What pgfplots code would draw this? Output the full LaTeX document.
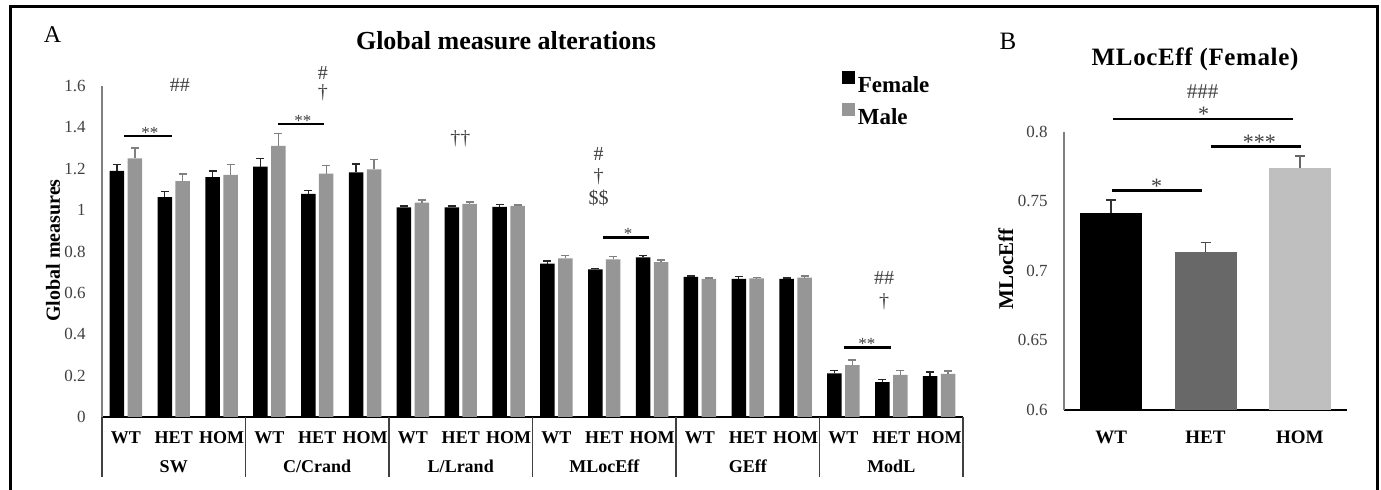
\documentclass[border=0pt]{standalone}
\usepackage{fontspec}
\setmainfont{Liberation Serif}
\usepackage{pgfplots}
\pgfplotsset{compat=1.18}
\usepackage{pgfplotstable}
\definecolor{maleg}{HTML}{969696}
\definecolor{ticktxt}{HTML}{404040}
\definecolor{hetg}{HTML}{686868}
\definecolor{homg}{HTML}{BFBFBF}
\definecolor{axgray}{HTML}{7F7F7F}

\pgfplotstableread{
x y e
0 1.190 0.030
1 1.063 0.027
2 1.160 0.030
3 1.210 0.040
4 1.078 0.017
5 1.183 0.040
6 1.013 0.006
7 1.013 0.006
8 1.016 0.010
9 0.741 0.013
10 0.713 0.006
11 0.772 0.010
12 0.677 0.004
13 0.668 0.012
14 0.668 0.004
15 0.211 0.013
16 0.168 0.014
17 0.198 0.019
}\female
\pgfplotstableread{
x y e
0 1.250 0.050
1 1.140 0.035
2 1.170 0.050
3 1.310 0.060
4 1.176 0.041
5 1.197 0.048
6 1.036 0.013
7 1.030 0.010
8 1.021 0.004
9 0.767 0.014
10 0.762 0.013
11 0.748 0.011
12 0.668 0.004
13 0.670 0.004
14 0.674 0.007
15 0.251 0.024
16 0.203 0.021
17 0.208 0.014
}\male

\begin{document}
\begin{tikzpicture}
\useasboundingbox (0,0) rectangle (690.5pt,245pt);
% outer frame
\draw[line width=1.2pt] (5.15pt,0) -- (5.15pt,241.7pt) -- (688.75pt,241.7pt) -- (688.75pt,0);
% panel letters and titles
\node[anchor=base, font=\fontsize{12}{14}\selectfont] at (26.25pt,223.6pt) {A};
\node[anchor=base, font=\fontsize{13}{15}\selectfont\bfseries] at (253pt,220pt) {Global measure alterations};
\node[anchor=base, font=\fontsize{12.5}{14}\selectfont] at (504pt,220.3pt) {B};
\node[anchor=base, inner sep=0pt, font=\fontsize{12.5}{14}\selectfont\bfseries\addfontfeatures{LetterSpace=2.5}] at (597.5pt,212.2pt) {MLocEff (Female)};

\begin{axis}[
  at={(51pt,36.5pt)}, anchor=south west,
  scale only axis, width=430.5pt, height=165.5pt,
  xmin=-0.5, xmax=17.5, ymin=0, ymax=1.6,
  clip mode=individual,
  axis x line=bottom, axis y line=left,
  axis line style={-},
  x axis line style={black, line width=0.6pt},
  y axis line style={axgray, line width=0.6pt},
  major tick length=0pt,
  ytick={0,0.2,0.4,0.6,0.8,1,1.2,1.4,1.6},
  /pgf/number format/assume math mode=true,
  yticklabel style={font=\fontsize{8.5}{10}\selectfont, text=ticktxt, anchor=east, xshift=-4.7pt},
  xtick={0,...,17},
  xticklabels={WT,HET,HOM,WT,HET,HOM,WT,HET,HOM,WT,HET,HOM,WT,HET,HOM,WT,HET,HOM},
  xticklabel style={font=\fontsize{9}{10}\selectfont\bfseries, anchor=base, yshift=-13.3pt},
  ylabel={Global measures},
  ylabel style={font=\fontsize{10}{12}\selectfont\bfseries, at={(axis description cs:-0.0569,0.503)}, anchor=center},
  legend style={at={(0.8595,1.045)}, anchor=north west, draw=none, fill=none, inner sep=0pt,
    font=\fontsize{11.5}{13}\selectfont\bfseries, row sep=4.5pt,
    nodes={inner sep=1.2pt, text depth=0pt}},
  legend cell align=left,
]
\addplot[ybar, bar width=7.25pt, bar shift=0pt, fill=black, draw=none,
  legend image code/.code={\fill[black] (0pt,-0.2pt) rectangle (6.5pt,6.3pt);},
  error bars/.cd, y dir=plus, y explicit,
  error bar style={black!85, line width=0.7pt},
  error mark options={rotate=90, black!85, mark size=2pt, line width=0.7pt}]
  table[x expr=\thisrow{x}-0.188, y=y, y error=e]{\female};
\addlegendentry{Female}
\addplot[ybar, bar width=7.25pt, bar shift=0pt, fill=maleg, draw=none,
  legend image code/.code={\fill[maleg] (0pt,-0.2pt) rectangle (6.5pt,6.3pt);},
  error bars/.cd, y dir=plus, y explicit,
  error bar style={gray, line width=0.7pt},
  error mark options={rotate=90, gray, mark size=2pt, line width=0.7pt}]
  table[x expr=\thisrow{x}+0.188, y=y, y error=e]{\male};
\addlegendentry{Male}

% group labels and separators
\draw[black!75, line width=0.6pt] (axis cs:-0.5,0) -- ([yshift=-30pt]axis cs:-0.5,0);
\draw[black!75, line width=0.6pt] (axis cs:2.5,0) -- ([yshift=-30pt]axis cs:2.5,0);
\draw[black!75, line width=0.6pt] (axis cs:5.5,0) -- ([yshift=-30pt]axis cs:5.5,0);
\draw[black!75, line width=0.6pt] (axis cs:8.5,0) -- ([yshift=-30pt]axis cs:8.5,0);
\draw[black!75, line width=0.6pt] (axis cs:11.5,0) -- ([yshift=-30pt]axis cs:11.5,0);
\draw[black!75, line width=0.6pt] (axis cs:14.5,0) -- ([yshift=-30pt]axis cs:14.5,0);
\draw[black!75, line width=0.6pt] (axis cs:17.5,0) -- ([yshift=-30pt]axis cs:17.5,0);
\node[anchor=base, font=\fontsize{9}{10}\selectfont\bfseries, yshift=-27.9pt] at (axis cs:1,0) {SW};
\node[anchor=base, font=\fontsize{9}{10}\selectfont\bfseries, yshift=-27.9pt] at (axis cs:4,0) {C/Crand};
\node[anchor=base, font=\fontsize{9}{10}\selectfont\bfseries, yshift=-27.9pt] at (axis cs:7,0) {L/Lrand};
\node[anchor=base, font=\fontsize{9}{10}\selectfont\bfseries, yshift=-27.9pt] at (axis cs:10,0) {MLocEff};
\node[anchor=base, font=\fontsize{9}{10}\selectfont\bfseries, yshift=-27.9pt] at (axis cs:13,0) {GEff};
\node[anchor=base, font=\fontsize{9}{10}\selectfont\bfseries, yshift=-27.9pt] at (axis cs:16,0) {ModL};

% significance annotations
\draw[line width=1.3pt] (axis cs:-0.04,1.358) -- (axis cs:0.957,1.358);
\node[anchor=base, font=\fontsize{8.5}{10}\selectfont, text=ticktxt, yshift=-1pt] at (axis cs:0.5,1.358) {**};
\node[font=\fontsize{10}{12}\selectfont, text=ticktxt] at (axis cs:1.13,1.605) {\#\#};

\draw[line width=1.3pt] (axis cs:3.18,1.416) -- (axis cs:4.14,1.416);
\node[anchor=base, font=\fontsize{8.5}{10}\selectfont, text=ticktxt, yshift=-1pt] at (axis cs:3.7,1.416) {**};
\node[font=\fontsize{10}{12}\selectfont, text=ticktxt] at (axis cs:4.12,1.665) {\#};
\node[font=\fontsize{10}{12}\selectfont, text=ticktxt] at (axis cs:4.12,1.565) {†};

\node[font=\fontsize{10}{12}\selectfont, text=ticktxt] at (axis cs:6.99,1.347) {††};

\node[font=\fontsize{10}{12}\selectfont, text=ticktxt] at (axis cs:9.88,1.271) {\#};
\node[font=\fontsize{10}{12}\selectfont, text=ticktxt] at (axis cs:9.88,1.162) {†};
\node[font=\fontsize{10}{12}\selectfont, text=ticktxt] at (axis cs:9.88,1.058) {\$\$};
\draw[line width=1.3pt] (axis cs:9.97,0.867) -- (axis cs:10.94,0.867);
\node[anchor=base, font=\fontsize{8.5}{10}\selectfont, text=ticktxt, yshift=-1pt] at (axis cs:10.5,0.867) {*};

\node[font=\fontsize{10}{12}\selectfont, text=ticktxt] at (axis cs:15.85,0.674) {\#\#};
\node[font=\fontsize{10}{12}\selectfont, text=ticktxt] at (axis cs:15.85,0.557) {†};
\draw[line width=1.3pt] (axis cs:15.01,0.335) -- (axis cs:15.99,0.335);
\node[anchor=base, font=\fontsize{8.5}{10}\selectfont, text=ticktxt, yshift=-1pt] at (axis cs:15.49,0.335) {**};
\end{axis}

\begin{axis}[
  at={(532pt,40pt)}, anchor=south west,
  scale only axis, width=141.5pt, height=139.15pt,
  xmin=-0.5, xmax=2.5, ymin=0.6, ymax=0.8,
  clip mode=individual,
  axis x line=bottom, axis y line=left,
  axis line style={-},
  x axis line style={black, line width=0.6pt},
  y axis line style={axgray, line width=0.6pt},
  major tick length=0pt,
  ytick={0.6,0.65,0.7,0.75,0.8},
  /pgf/number format/assume math mode=true,
  yticklabel style={font=\fontsize{8.5}{10}\selectfont, text=ticktxt, anchor=east, xshift=-4.7pt},
  xtick={0,1,2},
  xticklabels={WT,HET,HOM},
  xticklabel style={font=\fontsize{9.5}{11}\selectfont\bfseries, anchor=base, yshift=-16.75pt},
  ylabel={MLocEff},
  ylabel style={font=\fontsize{10.5}{12}\selectfont\bfseries, at={(axis description cs:-0.206,0.507)}, anchor=center},
]
\addplot[ybar, bar width=31pt, bar shift=0pt, fill=black, draw=none,
  error bars/.cd, y dir=plus, y explicit,
  error bar style={black!80, line width=0.7pt},
  error mark options={rotate=90, black!80, mark size=2.5pt, line width=0.7pt}]
  coordinates {(0,0.7418) +- (0,0.0092)};
\addplot[ybar, bar width=31pt, bar shift=0pt, fill=hetg, draw=none,
  error bars/.cd, y dir=plus, y explicit,
  error bar style={black!70, line width=0.7pt},
  error mark options={rotate=90, black!70, mark size=2.5pt, line width=0.7pt}]
  coordinates {(1,0.7134) +- (0,0.0068)};
\addplot[ybar, bar width=31pt, bar shift=0pt, fill=homg, draw=none,
  error bars/.cd, y dir=plus, y explicit,
  error bar style={black!60, line width=0.7pt},
  error mark options={rotate=90, black!60, mark size=2.5pt, line width=0.7pt}]
  coordinates {(2,0.7737) +- (0,0.0088)};

\node[font=\fontsize{10.5}{12}\selectfont, text=ticktxt] at (axis cs:0.97,0.829) {\#\#\#};
\draw[line width=1.3pt] (axis cs:0.023,0.8091) -- (axis cs:1.925,0.8091);
\node[anchor=base, font=\fontsize{11}{12}\selectfont, text=ticktxt, yshift=-1.2pt] at (axis cs:0.98,0.8091) {*};
\draw[line width=1.3pt] (axis cs:1.06,0.7892) -- (axis cs:2.01,0.7892);
\node[anchor=base, font=\fontsize{11}{12}\selectfont, text=ticktxt, yshift=-1.2pt] at (axis cs:1.57,0.7892) {***};
\draw[line width=1.3pt] (axis cs:0.01,0.7576) -- (axis cs:0.96,0.7576);
\node[anchor=base, font=\fontsize{11}{12}\selectfont, text=ticktxt, yshift=-1.2pt] at (axis cs:0.483,0.7576) {*};
\end{axis}
\end{tikzpicture}
\end{document}
